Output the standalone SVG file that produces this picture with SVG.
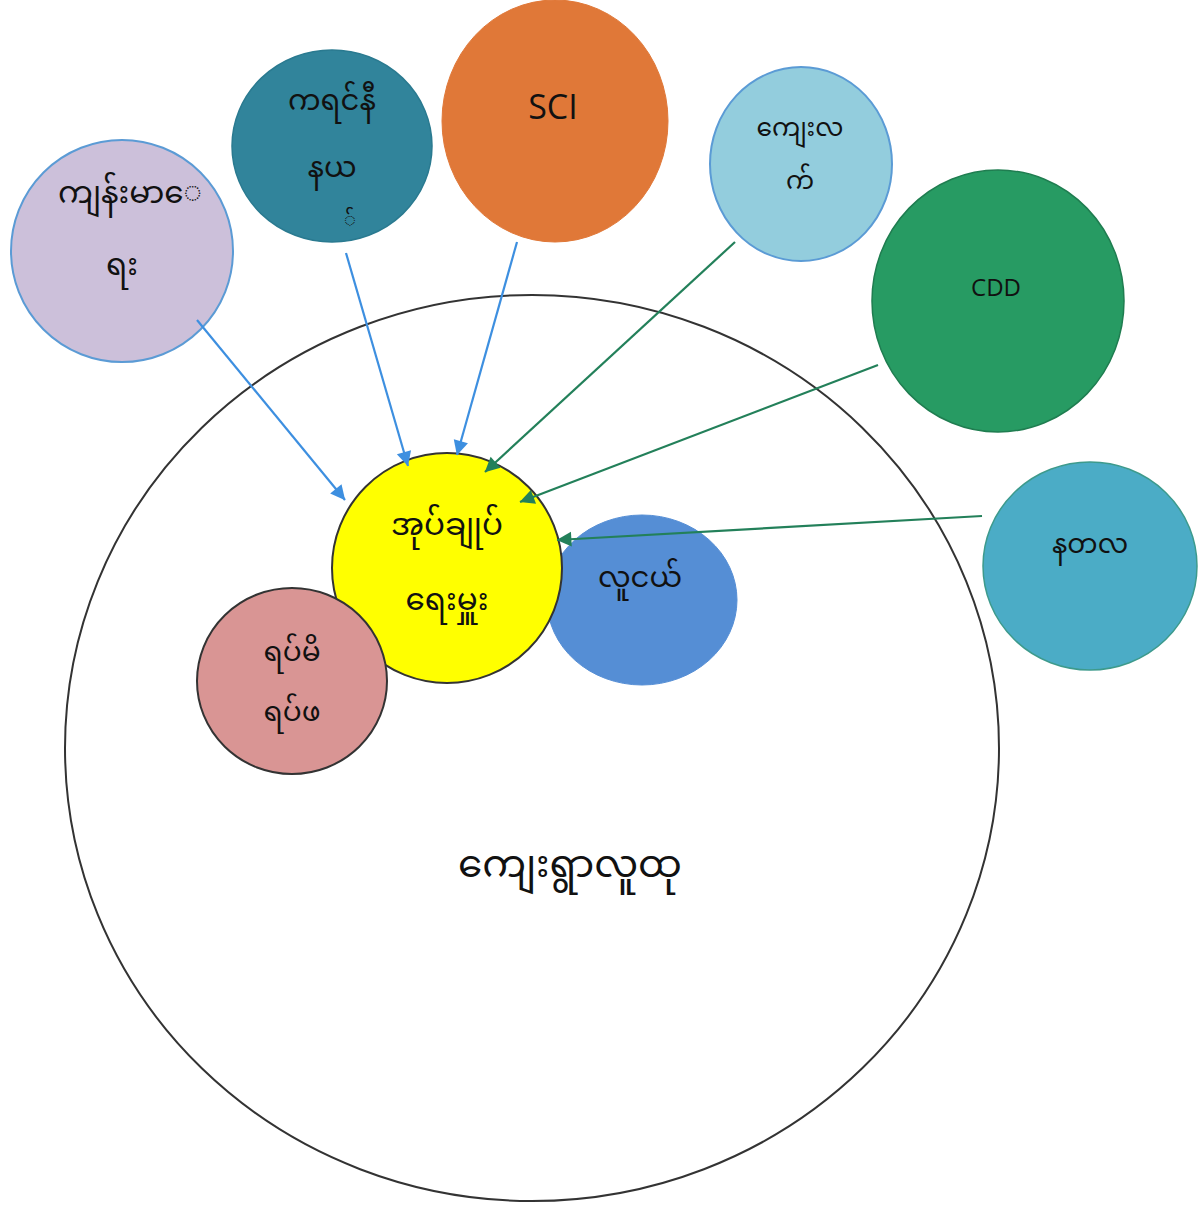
<svg xmlns="http://www.w3.org/2000/svg" width="1199" height="1205" viewBox="0 0 1199 1205">
<style>
.t{font-family:"Noto Sans Myanmar","Padauk","Myanmar Text","Noto Sans",sans-serif;fill:#111;text-anchor:middle;dominant-baseline:central}
.l{font-family:"Open Sans","Liberation Sans",sans-serif;fill:#111;text-anchor:middle;dominant-baseline:central}
.blue{stroke:#3d8fe0;stroke-width:2.2;fill:none}
.green{stroke:#23805a;stroke-width:2.2;fill:none}
</style>
<defs>
<marker id="ab" viewBox="0 0 10 10" refX="9" refY="5" markerWidth="7" markerHeight="7" markerUnits="userSpaceOnUse" orient="auto" style="overflow:visible">
<path d="M0,0 L10,5 L0,10 z" fill="#3d8fe0" transform="scale(2.1) translate(-5.5,-2.6)"/>
</marker>
<marker id="ag" viewBox="0 0 10 10" refX="9" refY="5" markerWidth="7" markerHeight="7" markerUnits="userSpaceOnUse" orient="auto" style="overflow:visible">
<path d="M0,0 L10,5 L0,10 z" fill="#23805a" transform="scale(2.1) translate(-5.5,-2.6)"/>
</marker>
</defs>
<rect width="1199" height="1205" fill="#fff"/>
<g id="village">
<ellipse cx="532" cy="748" rx="467" ry="453" fill="#fff" stroke="#333" stroke-width="2"/>
<text class="t" x="570" y="868" font-size="39">ကျေးရွာလူထု</text>
</g>
<g id="health">
<ellipse cx="122" cy="251" rx="111" ry="111" fill="#ccc0da" stroke="#5b9bd5" stroke-width="2"/>
<text class="t" x="130" y="196" font-size="31">ကျန်းမာေ</text>
<text class="t" x="122" y="268" font-size="31">ရး</text>
</g>
<g id="karenni">
<ellipse cx="332" cy="146" rx="100" ry="96" fill="#31849b" stroke="#2a7a90" stroke-width="1.5"/>
<text class="t" x="332" y="103" font-size="29">ကရင်နီ</text>
<text class="t" x="332" y="170" font-size="29">နယ</text>
<text class="t" x="350" y="222" font-size="20">်</text>
</g>
<g id="sci">
<ellipse cx="555" cy="121" rx="113" ry="121" fill="#e07838" stroke="#e07838"/>
<text class="l" x="553" y="106" font-size="34">SCI</text>
</g>
<g id="village-affairs">
<ellipse cx="801" cy="164" rx="91" ry="97" fill="#93cddd" stroke="#5b9bd5" stroke-width="2"/>
<text class="t" x="800" y="130" font-size="25">ကျေးလ</text>
<text class="t" x="800" y="183" font-size="25">က်</text>
</g>
<g id="cdd">
<ellipse cx="998" cy="301" rx="126" ry="131" fill="#279b63" stroke="#1f7d50" stroke-width="1.5"/>
<text class="l" x="996" y="286" font-size="24">CDD</text>
</g>
<g id="natala">
<ellipse cx="1090" cy="566" rx="107" ry="104" fill="#4bacc6" stroke="#3d9a8c" stroke-width="1.5"/>
<text class="t" x="1090" y="546" font-size="27">နတလ</text>
</g>
<g id="youth">
<ellipse cx="642" cy="600" rx="95" ry="85" fill="#558ed5" stroke="#558ed5"/>
<text class="t" x="640" y="580" font-size="29">လူငယ်</text>
</g>
<g id="admin">
<circle cx="447" cy="568" r="115" fill="#ffff00" stroke="#333" stroke-width="2"/>
<text class="t" x="447" y="528" font-size="31">အုပ်ချုပ်</text>
<text class="t" x="447" y="603" font-size="31">ရေးမှူး</text>
</g>
<g id="elders">
<ellipse cx="292" cy="681" rx="95" ry="93" fill="#d99594" stroke="#333" stroke-width="2"/>
<text class="t" x="292" y="654" font-size="28">ရပ်မိ</text>
<text class="t" x="292" y="714" font-size="28">ရပ်ဖ</text>
</g>
<g id="connectors">
<line class="blue" x1="197" y1="320" x2="345" y2="500" marker-end="url(#ab)"/>
<line class="blue" x1="346" y1="253" x2="408" y2="466" marker-end="url(#ab)"/>
<line class="blue" x1="517" y1="242" x2="457" y2="455" marker-end="url(#ab)"/>
<line class="green" x1="735" y1="242" x2="485" y2="472" marker-end="url(#ag)"/>
<line class="green" x1="878" y1="365" x2="520" y2="502" marker-end="url(#ag)"/>
<line class="green" x1="982" y1="516" x2="557" y2="540" marker-end="url(#ag)"/>
</g>
</svg>
